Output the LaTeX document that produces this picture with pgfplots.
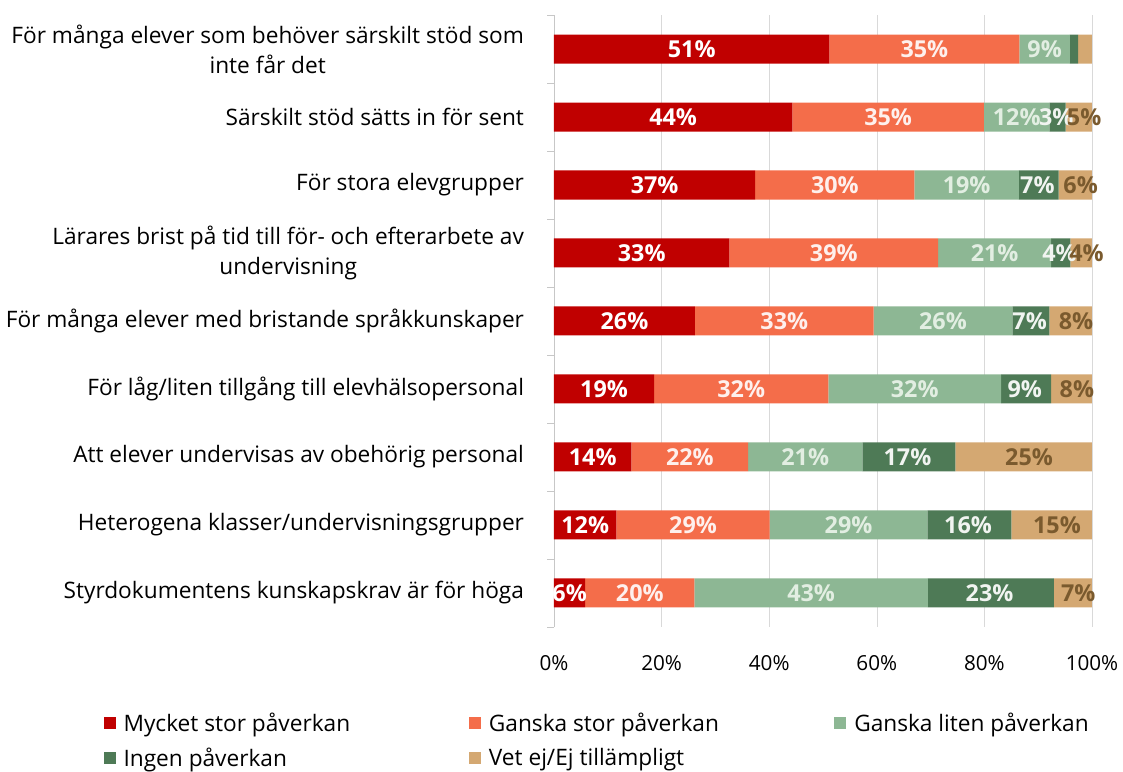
\documentclass[border=0pt]{standalone}
\usepackage{fontspec}
\setmainfont{Open Sans}
\usepackage{pgfplots}
\usepackage{pgfplotstable}
\pgfplotsset{compat=1.18}

\definecolor{c1}{HTML}{C00000}
\definecolor{c2}{HTML}{F46D4A}
\definecolor{c3}{HTML}{8DB794}
\definecolor{c4}{HTML}{4E7A56}
\definecolor{c5}{HTML}{D4A872}
\definecolor{gridc}{HTML}{D9D9D9}
\definecolor{lblbrown}{HTML}{7A5A2E}
\definecolor{lblgreen}{HTML}{E2EEE2}

% share of answers per statement (rows top to bottom), in percent, with the printed label
\pgfplotstableread{
y v1   l1    v2   l2    v3   l3    v4   l4    v5   l5
1 51.2 51\%  35.3 35\%  9.4  9\%   1.5  {}    2.6  {}
2 44.3 44\%  35.6 35\%  12.2 12\%  3.0  3\%   4.9  5\%
3 37.4 37\%  29.6 30\%  19.4 19\%  7.4  7\%   6.2  6\%
4 32.6 33\%  38.8 39\%  21.0 21\%  3.6  4\%   4.0  4\%
5 26.2 26\%  33.2 33\%  25.8 26\%  6.9  7\%   7.9  8\%
6 18.6 19\%  32.4 32\%  32.1 32\%  9.3  9\%   7.6  8\%
7 14.4 14\%  21.7 22\%  21.2 21\%  17.3 17\%  25.4 25\%
8 11.6 12\%  28.5 29\%  29.3 29\%  15.6 16\%  15.0 15\%
9 5.8  6\%   20.3 20\%  43.4 43\%  23.4 23\%  7.1  7\%
}\data
% middle of each segment, for the labels
\pgfplotstablecreatecol[expr={\thisrow{v1}/2}]{m1}\data
\pgfplotstablecreatecol[expr={\thisrow{v1}+\thisrow{v2}/2}]{m2}\data
\pgfplotstablecreatecol[expr={\thisrow{v1}+\thisrow{v2}+\thisrow{v3}/2}]{m3}\data
\pgfplotstablecreatecol[expr={\thisrow{v1}+\thisrow{v2}+\thisrow{v3}+\thisrow{v4}/2}]{m4}\data
\pgfplotstablecreatecol[expr={\thisrow{v1}+\thisrow{v2}+\thisrow{v3}+\thisrow{v4}+\thisrow{v5}/2}]{m5}\data

\newcommand{\lentry}[1]{\makebox[256bp][l]{#1}}

\pgfplotsset{
    box/.style={scale only axis, width=403.5bp, height=459bp,
        xmin=0, xmax=100, ymin=0.5, ymax=9.5, y dir=reverse},
    lbl/.style={draw=none, mark=none, nodes near coords={\pgfplotspointmeta},
        point meta=explicit symbolic,
        every node near coord/.append style={anchor=center, #1,
            font=\fontsize{17.5bp}{20bp}\selectfont\bfseries}},
}

\begin{document}
\begin{tikzpicture}
\begin{axis}[
    box,
    xbar stacked, bar width=21.75bp,
    font=\fontsize{17bp}{22.5bp}\selectfont,
    /pgf/number format/assume math mode=true,
    xtick={0,20,...,100},
    xticklabel={\pgfmathprintnumber{\tick}\%},
    xticklabel style={yshift=-18bp, font=\fontsize{15.5bp}{18bp}\selectfont},
    ytick={1,...,9},
    yticklabels={För många elever som behöver särskilt stöd som\\inte får det,
        Särskilt stöd sätts in för sent,
        För stora elevgrupper,
        Lärares brist på tid till för- och efterarbete av\\undervisning,
        För många elever med bristande språkkunskaper,
        För låg/liten tillgång till elevhälsopersonal,
        Att elever undervisas av obehörig personal,
        Heterogena klasser/undervisningsgrupper,
        Styrdokumentens kunskapskrav är för höga},
    yticklabel style={align=center, xshift=-19bp},
    minor ytick={0.5,1.5,...,9.5},
    tick align=outside, major tick length=0pt, minor tick length=5bp,
    minor tick style={gridc!80!gray},
    axis lines*=left,
    x axis line style={draw=none},
    y axis line style={gridc!80!gray},
    xmajorgrids, grid style={gridc},
    legend columns=3,
    legend image code/.code={\fill[#1] (0bp,-4.5bp) rectangle (9bp,4.5bp);},
    legend style={draw=none, at={(axis description cs:0,1)}, anchor=north west,
        xshift=-338bp, yshift=-521bp, inner sep=0pt, row sep=7bp,
        font=\fontsize{17bp}{20bp}\selectfont,
        /tikz/every odd column/.append style={column sep=3bp},
        nodes={inner xsep=3bp}},
    legend cell align=left,
]
\addplot[fill=c1, draw=none] table[x=v1, y=y] {\data};
\addplot[fill=c2, draw=none] table[x=v2, y=y] {\data};
\addplot[fill=c3, draw=none] table[x=v3, y=y] {\data};
\addplot[fill=c4, draw=none] table[x=v4, y=y] {\data};
\addplot[fill=c5, draw=none] table[x=v5, y=y] {\data};
\addlegendentry{\lentry{Mycket stor påverkan}}
\addlegendentry{\lentry{Ganska stor påverkan}}
\addlegendentry{\lentry{Ganska liten påverkan}}
\addlegendentry{\lentry{Ingen påverkan}}
\addlegendentry{\lentry{Vet ej/Ej tillämpligt}}
\coordinate (bl) at (axis cs:0,9.5);
\coordinate (tr) at (axis cs:100,0.5);
\end{axis}
% labels in the middle of each segment
\begin{axis}[box, hide axis]
\addplot[lbl=white] table[x=m1, y=y, meta=l1] {\data};
\addplot[lbl=white!90!c2] table[x=m2, y=y, meta=l2] {\data};
\addplot[lbl=lblgreen] table[x=m3, y=y, meta=l3] {\data};
\addplot[lbl={white!92!c4, xshift=-1bp}] table[x=m4, y=y, meta=l4] {\data};
\addplot[lbl={lblbrown, xshift=4bp}] table[x=m5, y=y, meta=l5] {\data};
\end{axis}
\pgfresetboundingbox
\path[use as bounding box] ([shift={(-415.5bp,-108.75bp)}]bl) rectangle ([shift={(23.25bp,11.25bp)}]tr);
\end{tikzpicture}
\end{document}
